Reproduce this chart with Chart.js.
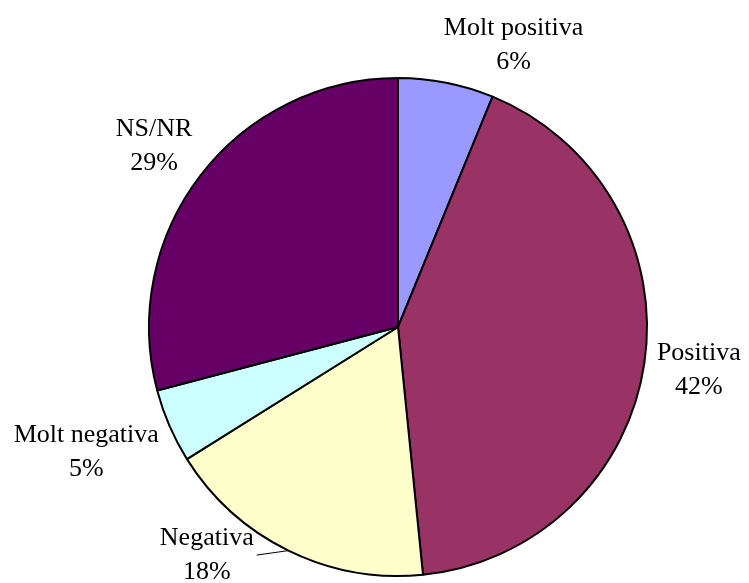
<!DOCTYPE html>
<html>
<head>
<meta charset="utf-8">
<script src="https://cdn.jsdelivr.net/npm/chart.js@4/dist/chart.umd.min.js"></script>
<style>
html,body{margin:0;padding:0;background:#fff}
#wrap{width:749px;height:583px}
</style>
</head>
<body>
<div id="wrap"><canvas id="pieChart"></canvas></div>
<script>
const labels = ["Molt positiva", "Positiva", "Negativa", "Molt negativa", "NS/NR"]
const values = [6.2, 42.2, 17.7, 4.8, 29.1]
const colors = ["#9999FF", "#993366", "#FFFFCC", "#CCFFFF", "#660066"]

// label spots, in units of the pie radius from its centre
const labelSpots = [[0.464, -1.132], [1.208, 0.172], [-0.768, 0.916], [-1.252, 0.504], [-0.98, -0.728]]

const total = values.reduce((a, b) => a + b, 0)

const pieLabels = {
id: "pieLabels",
afterDatasetsDraw(chart) {
const ctx = chart.ctx
const arcs = chart.getDatasetMeta(0).data
ctx.save()
ctx.font = "26px 'Liberation Serif', 'Times New Roman', serif"
ctx.fillStyle = "#000"
ctx.textAlign = "center"
ctx.textBaseline = "middle"
arcs.forEach((arc, i) => {
const r = arc.outerRadius
const x = arc.x + labelSpots[i][0] * r
const y = arc.y + labelSpots[i][1] * r
const pct = Math.round(values[i] / total * 100) + "%"
ctx.fillText(labels[i], x, y - 17)
ctx.fillText(pct, x, y + 17)
// leader line for the label placed away from its slice
if (labels[i] === "Negativa") {
const mid = (arc.startAngle + arc.endAngle) / 2
const w = ctx.measureText(labels[i]).width
ctx.strokeStyle = "#000"
ctx.lineWidth = 1
ctx.beginPath()
ctx.moveTo(x + w / 2 + 3, y)
ctx.lineTo(arc.x + Math.cos(mid) * r, arc.y + Math.sin(mid) * r)
ctx.stroke()
}
})
ctx.restore()
}
}

new Chart(document.getElementById("pieChart"), {
type: "pie",
data: {
labels: labels,
datasets: [{
data: values,
backgroundColor: colors,
borderColor: "#000",
borderWidth: 2
}]
},
options: {
responsive: true,
maintainAspectRatio: false,
animation: false,
layout: { padding: { left: 148, right: 101, top: 77, bottom: 6 } },
plugins: {
legend: { display: false },
tooltip: { enabled: false }
}
},
plugins: [pieLabels]
})
</script>
</body>
</html>
